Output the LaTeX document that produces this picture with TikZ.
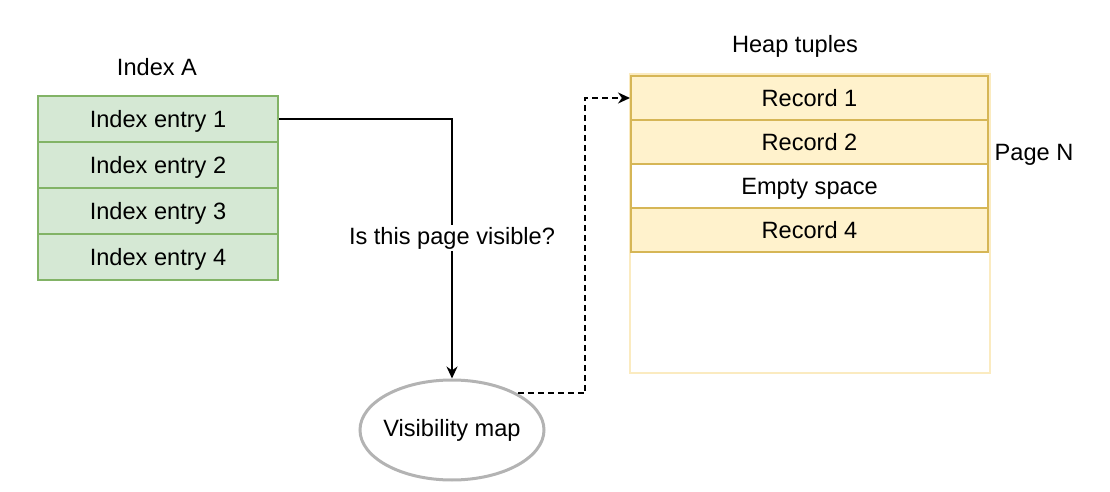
\documentclass[tikz,border=0pt]{standalone}
\usepackage{fontspec}
\setmainfont{Liberation Sans}
\usetikzlibrary{arrows.meta,shapes.geometric}
\definecolor{idxfill}{HTML}{D5E8D4}
\definecolor{idxline}{HTML}{82B366}
\definecolor{recfill}{HTML}{FFF2CC}
\definecolor{recline}{HTML}{D6B656}
\definecolor{pageline}{HTML}{FBEBC0}
\definecolor{mapline}{HTML}{B3B3B3}

\begin{document}
\begin{tikzpicture}[
  x=0.5pt, y=-0.5pt,
  >={Stealth[length=6pt, width=5.5pt]},
  every node/.style={font=\fontsize{11.8}{14}\selectfont},
  entry/.style={draw=idxline, fill=idxfill, line width=1pt, minimum width=120pt, minimum height=23pt, inner sep=0pt, anchor=north west, text depth=0pt},
  rec/.style={draw=recline, fill=recfill, line width=1pt, minimum width=178.5pt, minimum height=22pt, inner sep=0pt, anchor=north west, text depth=0pt},
  lbl/.style={inner sep=1pt},
  link/.style={->, line width=1pt},
]
  \useasboundingbox (0,0) rectangle (1110,492);

  % ---------------- index A
  \node[lbl] (idxA) at (157,67) {Index A};
  \foreach \i in {1,...,4}
    \node[entry] (e\i) at (37,{95+46*(\i-1)}) {Index entry \i};

  % ---------------- heap page
  \node[lbl] (heap) at (795,46) {Heap tuples};
  \node[draw=pageline, fill=white, line width=1pt, minimum width=180pt, minimum height=149.5pt, inner sep=0pt, anchor=north west] (page) at (629,73) {};
  \foreach \i/\t/\c in {1/Record 1/recfill, 2/Record 2/recfill, 3/Empty space/white, 4/Record 4/recfill}
    \node[rec, fill=\c] (r\i) at (630,{75+44*(\i-1)}) {\t};
  \node[lbl] (pageN) at (1034,155) {Page N};

  % ---------------- visibility map
  \node[ellipse, draw=mapline, line width=1.5pt, minimum width=92pt, minimum height=50pt, inner ysep=0pt, inner xsep=-1.8pt] (vis) at (452,430) {Visibility map};

  \draw[link] (e1.east) -| node[pos=0.73, fill=white, lbl] {Is this page visible?} (vis.north);
  \draw[link, dash pattern=on 3pt off 2pt] (vis.29) -| ([xshift=-22.5pt]r1.west) -- (r1.west);
\end{tikzpicture}
\end{document}
